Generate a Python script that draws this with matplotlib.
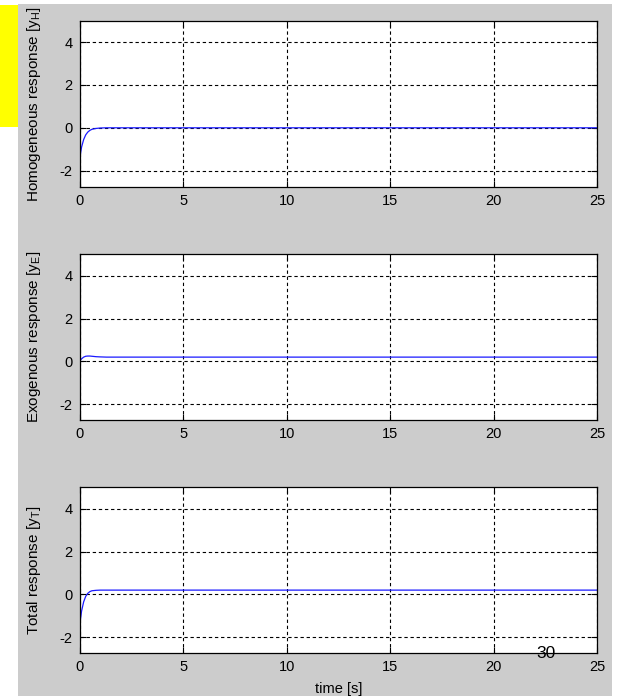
import numpy as np
import matplotlib as mpl
mpl.use('Agg')
import matplotlib.pyplot as plt
from matplotlib.patches import Rectangle

mpl.rcParams['font.family'] = ['Liberation Sans', 'DejaVu Sans']
mpl.rcParams['font.size'] = 10.5
mpl.rcParams['axes.unicode_minus'] = False
mpl.rcParams['mathtext.fontset'] = 'custom'
mpl.rcParams['mathtext.rm'] = 'Liberation Sans'
mpl.rcParams['mathtext.it'] = 'Liberation Sans'

# time samples [s]
t = [0.0, 0.1, 0.2, 0.3, 0.4, 0.5, 0.6, 0.8, 1.0, 1.3, 2.0, 25.0]
# homogeneous response, decays from -1.5 to 0
y_h = [-1.5, -0.9, -0.55, -0.33, -0.2, -0.12, -0.07, -0.03, -0.01, 0.0, 0.0, 0.0]
# exogenous response, small bump then steady ~0.2
y_e = [0.0, 0.12, 0.2, 0.24, 0.25, 0.25, 0.24, 0.22, 0.21, 0.2, 0.2, 0.2]
# total = homogeneous + exogenous
y_t = list(np.add(y_h, y_e))

ylabels = ['Homogeneous response [y$_{\\mathregular{H}}$]',
           'Exogenous response [y$_{\\mathregular{E}}$]',
           'Total response [y$_{\\mathregular{T}}$]']
series = [y_h, y_e, y_t]
xticks = [0, 5, 10, 15, 20, 25]
yticks = [-2, 0, 2, 4]

W, H = 618, 696
fig = plt.figure(figsize=(W/100, H/100), dpi=100)
fig.patch.set_facecolor('white')
fig.patches.append(Rectangle((18/W, 0), (612-18)/W, (H-4)/H, transform=fig.transFigure,
                             facecolor='#cccccc', edgecolor='none', zorder=-10))
fig.patches.append(Rectangle((0, 1-127/H), 18/W, (127-5)/H, transform=fig.transFigure,
                             facecolor='#ffff00', edgecolor='none', zorder=-10))

tops = [20.7, 254.3, 487.3]
left, right = 79.5, 597.3
hgt = 166.0
for i in range(3):
    ax = fig.add_axes([left/W, 1-(tops[i]+hgt)/H, (right-left)/W, hgt/H])
    ax.plot(t, series[i], color='#1a1aff', lw=0.9)
    ax.set_xlim(0, 25)
    ax.set_ylim(-2.75, 5)
    ax.set_xticks(xticks)
    ax.set_yticks(yticks)
    ax.grid(True, color='black', linestyle=(0, (3, 2.5)), lw=0.8)
    ax.tick_params(direction='in', length=4, top=True, right=True, pad=5, colors='black')
    for s in ax.spines.values():
        s.set_linewidth(0.9)
    ax.set_ylabel(ylabels[i], fontsize=11)
    ax.yaxis.set_label_coords(-0.070, 0.5)
    if i == 2:
        ax.set_xlabel('time [s]', fontsize=10.5)
        ax.xaxis.set_label_coords(0.5, -0.17)
        ax.text(0.901, 0.0, '30', transform=ax.transAxes, fontsize=12.5, ha='center', va='center')

fig.savefig('out.png', dpi=100)
